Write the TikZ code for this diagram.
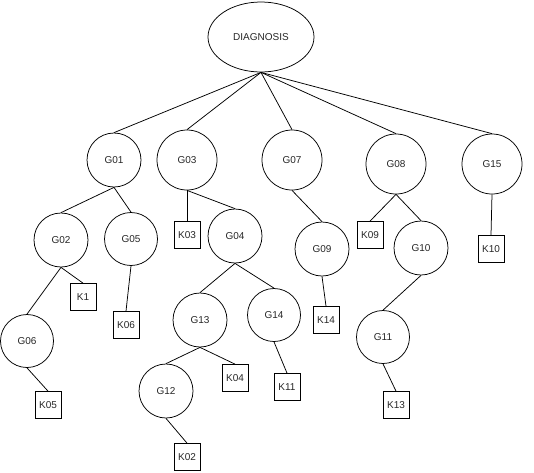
\documentclass[tikz,border=0pt]{standalone}
\usepackage{fontspec}
\setmainfont{Liberation Sans}
\usetikzlibrary{shapes.geometric}
\begin{document}
\begin{tikzpicture}[x=1pt,y=-1pt,
  every node/.style={font=\fontsize{10}{12}\selectfont, text=black!85},
  gnode/.style={draw, circle, minimum size=54pt, inner sep=0pt, line width=0.75pt},
  bignode/.style={gnode, minimum size=60pt},
  knode/.style={draw, rectangle, minimum width=26pt, minimum height=27pt, inner sep=0pt, line width=0.75pt},
  conn/.style={line width=0.75pt}]
\useasboundingbox (0,0) rectangle (534,472);
\node[draw, ellipse, minimum width=106pt, minimum height=70pt, inner sep=0pt, line width=0.75pt] (D) at (261,37) {DIAGNOSIS};
\node[gnode] (G01) at (114,160) {G01};
\node[bignode] (G03) at (187,160) {G03};
\node[bignode] (G07) at (292,160) {G07};
\node[bignode] (G08) at (396,164) {G08};
\node[bignode] (G15) at (492,164) {G15};
\node[gnode] (G02) at (61,240) {G02};
\node[gnode, minimum size=53pt] (G05) at (131,239) {G05};
\node[knode] (K03) at (187,235) {K03};
\node[gnode] (G04) at (235,236) {G04};
\node[gnode] (G09) at (322,249) {G09};
\node[knode] (K09) at (370,235) {K09};
\node[gnode] (G10) at (421,248) {G10};
\node[knode] (K10) at (491,249) {K10};
\node[knode] (K1) at (83,297) {K1};
\node[knode] (K06) at (126,325) {K06};
\node[gnode, minimum size=53pt] (G06) at (27,341) {G06};
\node[knode] (K05) at (48,405) {K05};
\node[gnode] (G13) at (200,320) {G13};
\node[gnode, minimum size=53pt] (G14) at (274,315) {G14};
\node[knode] (K14) at (326,320) {K14};
\node[gnode, minimum size=53pt] (G11) at (383,337) {G11};
\node[gnode] (G12) at (166,391) {G12};
\node[knode] (K04) at (235,378) {K04};
\node[knode] (K11) at (287,387) {K11};
\node[knode] (K13) at (396,405) {K13};
\node[knode] (K02) at (187,457) {K02};
\foreach \a/\b in {D/G01,D/G03,D/G07,D/G08,D/G15,
  G01/G02,G01/G05,G03/K03,G03/G04,G02/K1,G02/G06,G05/K06,G06/K05,
  G04/G13,G04/G14,G13/G12,G13/K04,G12/K02,G14/K11,
  G07/G09,G09/K14,G08/K09,G08/G10,G10/G11,G11/K13,G15/K10}
  \draw[conn] (\a.south) -- (\b.north);
\end{tikzpicture}
\end{document}
